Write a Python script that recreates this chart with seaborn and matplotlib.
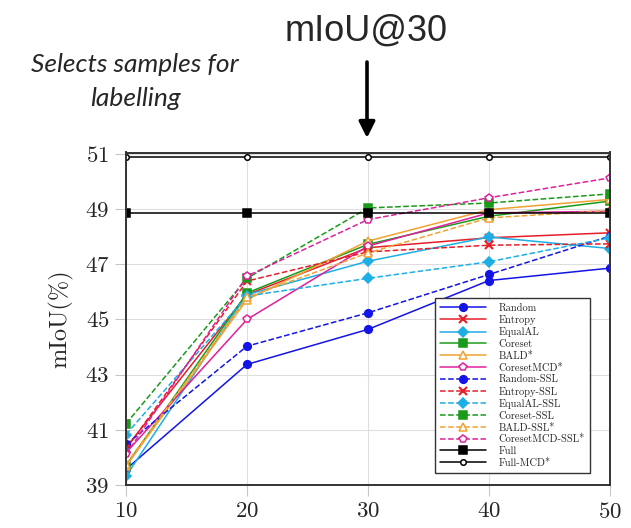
import seaborn as sns
import pandas as pd
import matplotlib.pyplot as plt

# porcentaje de datos etiquetados (eje x)
budget = [10, 20, 30, 40, 50]

random = [39.57, 43.37, 44.64, 46.41, 46.86]
entropy = [40.35, 45.90, 47.60, 47.96, 48.14]
equal_al = [39.32, 45.90, 47.11, 47.99, 47.57]
coreset = [39.70, 45.96, 47.72, 48.74, 49.29]
bald = [39.68, 45.72, 47.84, 48.98, 49.35]
coreset_mcd = [40.17, 45.00, 47.66, 48.86, 48.92]
random_ssl = [40.47, 44.03, 45.24, 46.63, 48.02]
entropy_ssl = [40.30, 46.39, 47.45, 47.69, 47.74]
equal_al_ssl = [40.83, 45.85, 46.49, 47.09, 47.96]
coreset_ssl = [41.22, 46.49, 49.04, 49.22, 49.55]
bald_ssl = [39.75, 45.80, 47.41, 48.68, 48.95]
coreset_mcd_ssl = [40.11, 46.57, 48.62, 49.41, 50.13]
full = [48.86, 48.86, 48.86, 48.86, 48.86]
full_mcd = [50.88, 50.88, 50.88, 50.88, 50.88]

y_ticks = [39, 41, 43, 45, 47, 49, 51]

blue = '#1414e6'
red = '#e61e28'
cyan = '#1eaee6'
green = '#1a9a1a'
orange = '#f2a232'
magenta = '#e0209c'

# nombre, valores, color, linea, marcador, relleno
series = [
    ('Random', random, blue, '-', 'o', True),
    ('Entropy', entropy, red, '-', 'x', True),
    ('EqualAL', equal_al, cyan, '-', 'D', True),
    ('Coreset', coreset, green, '-', 's', True),
    ('BALD*', bald, orange, '-', '^', False),
    ('CoresetMCD*', coreset_mcd, magenta, '-', 'p', False),
    ('Random-SSL', random_ssl, blue, '--', 'o', True),
    ('Entropy-SSL', entropy_ssl, red, '--', 'x', True),
    ('EqualAL-SSL', equal_al_ssl, cyan, '--', 'D', True),
    ('Coreset-SSL', coreset_ssl, green, '--', 's', True),
    ('BALD-SSL*', bald_ssl, orange, '--', '^', False),
    ('CoresetMCD-SSL*', coreset_mcd_ssl, magenta, '--', 'p', False),
    ('Full', full, 'black', '-', 's', True),
    ('Full-MCD*', full_mcd, 'black', '-', 'o', False),
]

sns.set_style('whitegrid')
plt.rcParams['axes.formatter.use_mathtext'] = True

fig = plt.figure(figsize=(6.31, 5.28), dpi=100)
ax = fig.add_axes([126 / 631, 1 - 485 / 528, 484 / 631, 332.5 / 528])

for name, vals, color, ls, mk, filled in series:
    df = pd.DataFrame({'budget': budget, 'miou': vals})
    size = 5.5 if mk != 'D' else 5
    if name == 'Full-MCD*':
        size = 4
    sns.lineplot(data=df, x='budget', y='miou', ax=ax, label=name,
                 color=color, linestyle=ls, linewidth=1.1,
                 dashes=(5, 3.5) if ls == '--' else (None, None),
                 marker=mk, markersize=size,
                 markerfacecolor=color if filled else 'white',
                 markeredgecolor=color, markeredgewidth=1.1 if mk != 'x' else 1.5)

ax.set_xlim(10, 50)
ax.set_ylim(39, 51.05)
ax.set_xticks(budget)
ax.set_yticks(y_ticks)
ax.set_xlabel('')
ax.set_ylabel('mIoU(%)', family='cmr10', fontsize=17.5, labelpad=8)
ax.grid(True, color='#dedede', linewidth=0.8)
ax.tick_params(axis='both', which='major', direction='out', length=8,
               width=0.8, color='#c8c8c8', labelsize=16.5, pad=4, left=True, bottom=True)
for lab in ax.get_xticklabels() + ax.get_yticklabels():
    lab.set_family('cmr10')
for sp in ax.spines.values():
    sp.set_color('#333333')
    sp.set_linewidth(1.4)

leg = ax.legend(loc='lower right', bbox_to_anchor=(0.969, 0.02),
                prop={'family': 'cmr10', 'size': 7.5}, frameon=True,
                fancybox=False, edgecolor='#333333', framealpha=1,
                handlelength=4.4, labelspacing=0.22, borderpad=0.5,
                handletextpad=1.2, numpoints=1)
leg.get_frame().set_linewidth(1.0)

# textos de anotacion fuera del grafico
fig.text(366 / 631, 1 - 31 / 528, 'mIoU@30', ha='center', va='center',
         fontsize=26, family='Liberation Sans')
fig.text(135 / 631, 1 - 64 / 528, 'Selects samples for', ha='center', va='center',
         fontsize=19, family='Lato', style='italic')
fig.text(135 / 631, 1 - 98 / 528, 'labelling', ha='center', va='center',
         fontsize=19, family='Lato', style='italic')
ax.annotate('', xy=(367 / 631, 1 - 138 / 528), xytext=(367 / 631, 1 - 62 / 528),
            xycoords='figure fraction', textcoords='figure fraction',
            annotation_clip=False,
            arrowprops=dict(arrowstyle='-|>', color='black', lw=2.6,
                            mutation_scale=24, shrinkA=0, shrinkB=0))

plt.savefig('out.png', dpi=100)
